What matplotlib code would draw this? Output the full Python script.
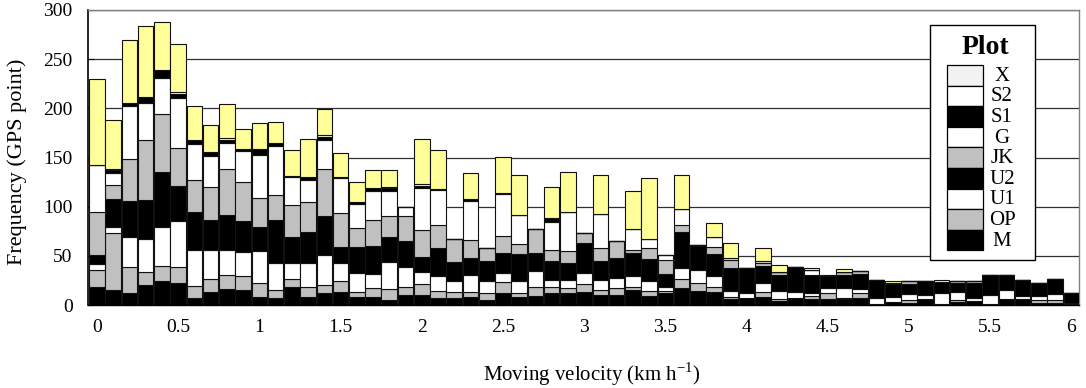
import numpy as np
import matplotlib
matplotlib.use("Agg")
import matplotlib.pyplot as plt
from matplotlib.patches import Rectangle

plt.rcParams['font.family'] = ['Liberation Serif', 'DejaVu Serif']
plt.rcParams['mathtext.fontset'] = 'custom'
plt.rcParams['mathtext.rm'] = 'Liberation Serif'

# Moving velocity classes (km/h), 0.0 ... 6.0
velocity = [round(0.1 * i, 1) for i in range(61)]

# Stack layers from bottom to top
M  = [18,15,12,20,24,22, 7,13,16,15, 8, 7,18, 8,12,13, 8, 8, 5,10,
      10, 7, 7, 8, 5,12, 8, 9,12,12,13,10,10,15, 9,12,17,14,13, 6,
       7, 8, 4, 7, 6, 6, 6, 7, 1, 3, 2, 6, 1, 3, 4, 1, 6, 6, 2, 2, 1]
OP = [18,58,27,14,16,17,12,13,15,15,14, 8, 8,10, 8,11, 5, 9,11, 8,
      11, 7, 6, 5, 7,11, 4, 9, 6, 5, 8, 5, 7, 3, 5, 2, 9, 8, 5, 2,
       0, 5, 2, 0, 3, 6, 1, 5, 0, 0, 3, 0, 0, 2, 0, 0, 0, 0, 3, 3, 0]
U1 = [ 6, 6,30,33,39,46,37,30,25,24,33,28,17,25,31,19,20,15,28,21,
      13,16,11,18,12,10,12,17, 7, 8,12,10,10,12,10, 4,12,14,12, 6,
       5, 9, 8, 6, 3, 5,10, 4, 6, 5, 6, 4,11, 8, 3, 9, 9, 3, 4, 6, 1]
U2 = [ 9,29,37,40,56,36,39,30,36,31,24,43,26,31,40,16,26,28,25,26,
      15,28,20,17,21,20,28,18,20,18,30,20,21,23,23,14,36,24,22,24,
      26,18,17,26,19,13,14,16,18,13,10,14,11, 9,15,21,16,16,13,15,10]
JK = [44,14,42,61,59,39,32,34,46,40,30,26,33,31,47,35,19,26,22,26,
      27,23,23,18,13,17,10,24,11,12,10,13,17, 3,11,14, 7, 1, 7, 8,
       0, 3, 3, 0, 0, 0, 3, 3, 0, 1, 3, 0, 0, 2, 2, 0, 0, 0, 0, 0, 0]
G  = [47,12,54,37,37,51,37,32,27,32,44,50,28,22,30,35,25,30,25, 9,
      43,36, 0,40, 0,43,30, 0,28,40, 0,35, 0,21, 9, 5,17, 0,10, 2,
       0, 2, 0, 0, 5, 0, 0, 0, 0, 0, 0, 0, 0, 0, 0, 0, 0, 0, 0, 0, 0]
S1 = [ 0, 3, 3, 7, 8, 4, 4, 4, 3, 2, 6, 3, 1, 3, 3, 1, 2, 3, 3, 0,
       2, 1, 0, 2, 0, 1, 0, 0, 4, 0, 0, 0, 0, 0, 0, 0, 0, 0, 0, 0,
       0, 0, 0, 0, 0, 0, 0, 0, 0, 0, 0, 0, 0, 0, 0, 0, 0, 0, 0, 0, 0]
S2 = [ 0, 1, 0, 0, 0, 2, 0, 0, 2, 0, 0, 0, 0, 0, 2, 0, 0, 0, 1, 0,
       2, 0, 0, 0, 0, 0, 0, 0, 0, 0, 0, 0, 0, 0, 0, 0, 0, 0, 0, 0,
       0, 0, 0, 0, 0, 0, 0, 0, 0, 0, 0, 0, 0, 0, 0, 0, 0, 0, 0, 0, 0]
X  = [88,50,64,72,49,48,34,27,34,20,26,21,27,39,26,25,20,18,17, 0,
      46,40, 0,26, 0,36,40, 0,32,40, 0,39, 0,39,62, 0,34, 0,14,15,
       0,13, 7, 0, 2, 0, 3, 0, 0, 2, 0, 0, 2, 0, 0, 0, 0, 0, 0, 0, 0]

layer_names = ['M', 'OP', 'U1', 'U2', 'JK', 'G', 'S1', 'S2', 'X']
layer_values = [M, OP, U1, U2, JK, G, S1, S2, X]
bar_colors = ['#000000', '#c0c0c0', '#ffffff', '#000000', '#c0c0c0',
              '#ffffff', '#000000', '#ffffff', '#ffff99']
legend_colors = ['#000000', '#c0c0c0', '#ffffff', '#000000', '#c0c0c0',
                 '#ffffff', '#000000', '#ffffff', '#f2f2f2']

W, H = 1086, 388
fig = plt.figure(figsize=(W / 100, H / 100), dpi=100)
L, R, T, B = 88, 1079, 10, 305
ax = fig.add_axes([L / W, 1 - B / H, (R - L) / W, (B - T) / H])

bottom = np.zeros(len(velocity))
for name, vals, col in zip(layer_names, layer_values, bar_colors):
    vals = np.array(vals, dtype=float)
    ax.bar(velocity, vals, width=0.096, bottom=bottom, color=col,
           edgecolor='#111111', linewidth=0.8, zorder=3)
    bottom += vals

ax.set_xlim(-0.055, 6.047)
ax.set_ylim(0, 300)
ax.set_yticks(np.arange(0, 301, 50))
xt = np.arange(0, 6.01, 0.5)
ax.set_xticks(xt)
ax.set_xticklabels(['0', '0.5', '1', '1.5', '2', '2.5', '3', '3.5', '4',
                    '4.5', '5', '5.5', '6'])
ax.yaxis.grid(True, color='#303030', linewidth=0.9, zorder=0)
ax.set_axisbelow(True)
ax.tick_params(axis='y', direction='in', length=4, width=0.8, pad=11,
               labelsize=14)
ax.tick_params(axis='x', length=0, pad=10, labelsize=14)
for s in ['top', 'right']:
    ax.spines[s].set_color('#808080')
    ax.spines[s].set_linewidth(1.0)
ax.spines['left'].set_color('black')
ax.spines['left'].set_linewidth(1.2)
ax.spines['bottom'].set_color('black')
ax.spines['bottom'].set_linewidth(1.0)

ax.set_xlabel('Moving velocity (km h$^{\\mathregular{-1}}$)', fontsize=15)
ax.xaxis.set_label_coords((592 - L) / (R - L), (B - 360) / (B - T))
ax.set_ylabel('Frequency (GPS point)', fontsize=16)
ax.yaxis.set_label_coords((27 - L) / (R - L), (B - 162) / (B - T))

# Legend drawn in pixel coordinates on an overlay axes
lax = fig.add_axes([0, 0, 1, 1], zorder=10)
lax.set_xlim(0, W)
lax.set_ylim(H, 0)
lax.axis('off')
lax.add_patch(Rectangle((930, 25), 105, 235, facecolor='white',
                        edgecolor='black', linewidth=1.0))
lax.text(985.5, 47, 'Plot', ha='center', va='center', fontsize=20,
         fontweight='bold')
row_h = 20.6
y0 = 65
for i, (name, col) in enumerate(zip(layer_names[::-1], legend_colors[::-1])):
    y = y0 + i * row_h
    lax.add_patch(Rectangle((946.5, y), 36, row_h, facecolor=col,
                            edgecolor='black', linewidth=0.9))
    lax.text(1002, y + row_h / 2 + 1, name, ha='center', va='center',
             fontsize=15)

fig.savefig('out.png', dpi=100)
